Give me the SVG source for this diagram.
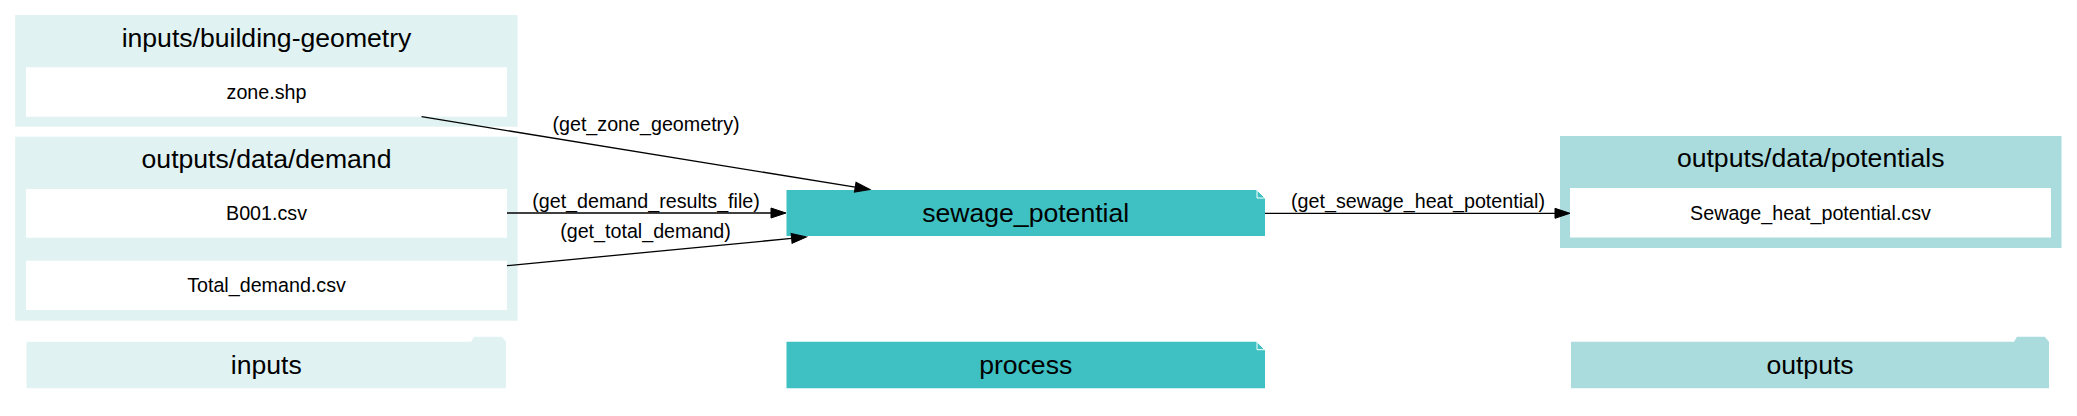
<svg xmlns="http://www.w3.org/2000/svg" width="2077" height="416" viewBox="0 0 2077 416">
<style>
text{font-family:"Liberation Sans",Arial,sans-serif;fill:#000;text-anchor:middle}
.t{font-size:26.6px}
.n{font-size:19.7px}
.e{font-size:19.7px}
.cin{fill:#E1F2F2}
.cout{fill:#AADCDD}
.proc{fill:#3FC0C2}
.file{fill:#FFFFFF}
.edge{stroke:#000;stroke-width:1.3;fill:none;marker-end:url(#ah)}
.fold{fill:#3FC0C2;stroke:#FFFFFF;stroke-width:1}
</style>
<defs>
<marker id="ah" markerUnits="userSpaceOnUse" markerWidth="16" markerHeight="12" refX="0" refY="5" orient="auto" viewBox="0 0 16 12" overflow="visible">
<path d="M0,0 L15,5 L0,10 z" fill="#000" stroke="#000" stroke-width="1"/>
</marker>
</defs>
<rect width="2077" height="416" fill="#fff"/>

<g id="cluster_inputs_building_geometry">
<rect class="cin" x="15.2" y="15" width="502.4" height="111.7"/>
<text class="t" x="266.5" y="46.7">inputs/building-geometry</text>
</g>
<g id="node_zone_shp">
<rect class="file" x="26" y="67.3" width="481" height="49.4"/>
<text class="n" x="266.5" y="99">zone.shp</text>
</g>

<g id="cluster_outputs_data_demand">
<rect class="cin" x="15.2" y="136.7" width="502.4" height="184"/>
<text class="t" x="266.5" y="168">outputs/data/demand</text>
</g>
<g id="node_B001_csv">
<rect class="file" x="26" y="189" width="481" height="48.7"/>
<text class="n" x="266.5" y="220.3">B001.csv</text>
</g>
<g id="node_Total_demand_csv">
<rect class="file" x="26" y="260.7" width="481" height="49.3"/>
<text class="n" x="266.5" y="292.3">Total_demand.csv</text>
</g>

<g id="node_sewage_potential">
<polygon class="proc" points="786.5,190 1257,190 1265,198 1265,236 786.5,236"/>
<polygon class="fold" points="1257,190 1257,198 1265,198"/>
<polyline points="1257,190 1265,198" stroke="#fff" stroke-width="1" fill="none"/>
<text class="t" x="1025.7" y="222">sewage_potential</text>
</g>

<g id="cluster_outputs_data_potentials">
<rect class="cout" x="1560" y="136" width="501.5" height="112"/>
<text class="t" x="1810.7" y="167">outputs/data/potentials</text>
</g>
<g id="node_Sewage_heat_potential_csv">
<rect class="file" x="1570" y="188" width="481" height="49.5"/>
<text class="n" x="1810.5" y="220">Sewage_heat_potential.csv</text>
</g>

<g id="legend_inputs">
<polygon class="cin" points="26.5,341.7 471,341.7 474,336.7 501.7,336.7 506,341.7 506,388.3 26.5,388.3"/>
<text class="t" x="266.3" y="374">inputs</text>
</g>
<g id="legend_process">
<polygon class="proc" points="786.5,341.7 1257,341.7 1265,349.7 1265,388.3 786.5,388.3"/>
<polygon class="fold" points="1257,341.7 1257,349.7 1265,349.7"/>
<polyline points="1257,341.7 1265,349.7" stroke="#fff" stroke-width="1" fill="none"/>
<text class="t" x="1025.7" y="374">process</text>
</g>
<g id="legend_outputs">
<polygon class="cout" points="1571,341.7 2014,341.7 2017,336.7 2044.7,336.7 2049,341.7 2049,388.3 1571,388.3"/>
<text class="t" x="1810" y="374">outputs</text>
</g>

<g id="edges">
<g id="edge_zone_geometry">
<path class="edge" d="M421.6,116.7 L855.2,187.1"/>
<text class="e" x="646" y="131">(get_zone_geometry)</text>
</g>
<g id="edge_demand_results_file">
<path class="edge" d="M507,213 L771,213"/>
<text class="e" x="646" y="208">(get_demand_results_file)</text>
</g>
<g id="edge_total_demand">
<path class="edge" d="M507,265.7 L791.6,238.4"/>
<text class="e" x="645.5" y="237.5">(get_total_demand)</text>
</g>
<g id="edge_sewage_heat_potential">
<path class="edge" d="M1265,213.3 L1555,213.3"/>
<text class="e" x="1418" y="207.5">(get_sewage_heat_potential)</text>
</g>
</g>
</svg>
